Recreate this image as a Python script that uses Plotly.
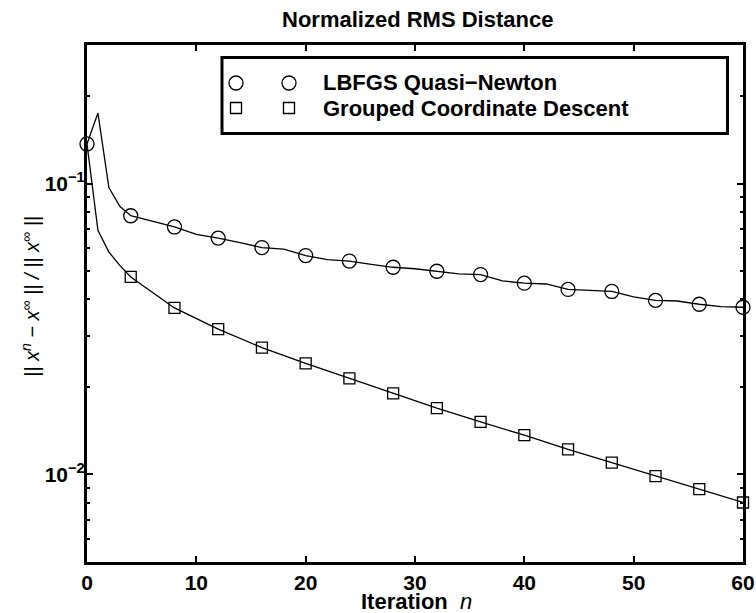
import plotly.graph_objects as go

# ---------------- data ----------------
lbfgs_iter = [0, 1, 2, 3, 4, 6, 8, 10, 12, 14, 16, 18, 20, 22, 24, 26, 28, 30,
              32, 34, 36, 38, 40, 42, 44, 46, 48, 50, 52, 54, 56, 58, 60]
lbfgs_vals = [0.137, 0.175, 0.097, 0.0836, 0.0776, 0.0744, 0.0710, 0.0669, 0.0650,
              0.0627, 0.0603, 0.0596, 0.0566, 0.0548, 0.0542, 0.0528, 0.0516, 0.0510,
              0.0500, 0.0490, 0.0487, 0.0463, 0.0455, 0.0452, 0.0433, 0.0430, 0.0426,
              0.0408, 0.0397, 0.0395, 0.0385, 0.0378, 0.0376]
lbfgs_marker_iter = [0, 4, 8, 12, 16, 20, 24, 28, 32, 36, 40, 44, 48, 52, 56, 60]
lbfgs_marker_vals = [0.137, 0.0776, 0.0710, 0.0650, 0.0603, 0.0566, 0.0542, 0.0516,
                     0.0500, 0.0487, 0.0455, 0.0433, 0.0426, 0.0397, 0.0385, 0.0376]

gcd_iter = [0, 1, 2, 3, 4, 8, 12, 16, 20, 24, 28, 32, 36, 40, 44, 48, 52, 56, 60]
gcd_vals = [0.137, 0.0691, 0.0582, 0.0524, 0.0478, 0.0374, 0.0316, 0.0273, 0.0241,
            0.0214, 0.0190, 0.0169, 0.01517, 0.01365, 0.01219, 0.01099, 0.00987,
            0.00890, 0.00801]
gcd_marker_iter = [4, 8, 12, 16, 20, 24, 28, 32, 36, 40, 44, 48, 52, 56, 60]
gcd_marker_vals = [0.0478, 0.0374, 0.0316, 0.0273, 0.0241, 0.0214, 0.0190, 0.0169,
                   0.01517, 0.01365, 0.01219, 0.01099, 0.00987, 0.00890, 0.00801]

x_ticks = [0, 10, 20, 30, 40, 50, 60]
y_ticks = [0.01, 0.1]
y_ticktext = ["10<sup>−2</sup>", "10<sup>−1</sup>"]
y_minor = [0.005, 0.006, 0.007, 0.008, 0.009, 0.02, 0.03, 0.04, 0.05, 0.06, 0.07,
           0.08, 0.09, 0.2, 0.3]

series_names = ["LBFGS Quasi−Newton", "Grouped Coordinate Descent"]
title_text = "Normalized RMS Distance"

FONT = "Liberation Sans, Arial, sans-serif"
BLACK = "black"

fig = go.Figure()

# lines
fig.add_trace(go.Scatter(x=lbfgs_iter, y=lbfgs_vals, mode="lines",
                         line=dict(color=BLACK, width=1.3), showlegend=False,
                         cliponaxis=False))
fig.add_trace(go.Scatter(x=gcd_iter, y=gcd_vals, mode="lines",
                         line=dict(color=BLACK, width=1.3), showlegend=False,
                         cliponaxis=False))
# markers
fig.add_trace(go.Scatter(x=lbfgs_marker_iter, y=lbfgs_marker_vals, mode="markers",
                         marker=dict(symbol="circle-open", size=14, color=BLACK,
                                     line=dict(width=1.3, color=BLACK)),
                         showlegend=False, cliponaxis=False))
fig.add_trace(go.Scatter(x=gcd_marker_iter, y=gcd_marker_vals, mode="markers",
                         marker=dict(symbol="square-open", size=11, color=BLACK,
                                     line=dict(width=1.3, color=BLACK)),
                         showlegend=False, cliponaxis=False))

# page geometry (window pixels)
W, H = 756, 613
L, R, T, B = 87, 743, 45, 562

# legend markers on an overlay pixel-like axis
leg_x = [236, 289]
leg_rows = [83, 108]
fig.add_trace(go.Scatter(x=leg_x, y=[leg_rows[0]] * 2, mode="markers",
                         xaxis="x2", yaxis="y2", showlegend=False, cliponaxis=False,
                         marker=dict(symbol="circle-open", size=14, color=BLACK,
                                     line=dict(width=1.3, color=BLACK))))
fig.add_trace(go.Scatter(x=leg_x, y=[leg_rows[1]] * 2, mode="markers",
                         xaxis="x2", yaxis="y2", showlegend=False, cliponaxis=False,
                         marker=dict(symbol="square-open", size=11, color=BLACK,
                                     line=dict(width=1.3, color=BLACK))))

pw, ph = R - L, B - T


def px(xp):
    return (xp - L) / pw


def py(yp):
    return (B - yp) / ph


axis_common = dict(showline=True, linewidth=3, linecolor=BLACK, mirror="ticks",
                   ticks="inside", ticklen=6, tickwidth=2, tickcolor=BLACK,
                   showgrid=False, zeroline=False, automargin=False,
                   tickfont=dict(family=FONT, size=21, color=BLACK, weight="bold"))

fig.update_layout(
    template="none",
    width=W, height=H,
    margin=dict(l=L, r=W - R, t=T, b=H - B, autoexpand=False),
    paper_bgcolor="white", plot_bgcolor="white",
    showlegend=False,
    xaxis=dict(range=[0, 60], tickvals=x_ticks, **axis_common),
    yaxis=dict(type="log", range=[-2.30103, -0.522879], tickvals=y_ticks,
               ticktext=y_ticktext, ticklabelstandoff=-5,
               minor=dict(tickvals=y_minor, ticks="inside", ticklen=3, tickwidth=1.5,
                          tickcolor=BLACK, showgrid=False),
               **axis_common),
    xaxis2=dict(range=[L, R], overlaying="x", visible=False, fixedrange=True,
                automargin=False),
    yaxis2=dict(range=[B, T], overlaying="y", visible=False, fixedrange=True,
                automargin=False),
    shapes=[dict(type="rect", xref="paper", yref="paper",
                 x0=px(222), x1=px(727.5), y0=py(133.5), y1=py(57.5),
                 line=dict(color=BLACK, width=3), fillcolor="rgba(0,0,0,0)",
                 layer="below")],
    annotations=[
        dict(text="<b>" + title_text + "</b>", xref="paper", yref="paper",
             x=px(417), y=py(19.5), xanchor="center", yanchor="middle",
             showarrow=False, font=dict(family=FONT, size=22, color=BLACK)),
        dict(text="<b>Iteration</b>  <i>n</i>", xref="paper", yref="paper",
             x=px(416.5), y=py(601), xanchor="center", yanchor="middle",
             showarrow=False, font=dict(family=FONT, size=22, color=BLACK)),
        dict(text="<i>|| x<sup>n</sup> − x<sup>∞</sup> || / || x<sup>∞</sup> ||</i>",
             xref="paper", yref="paper", x=px(30), y=py(297), textangle=-90,
             xanchor="center", yanchor="middle", showarrow=False,
             font=dict(family=FONT, size=20, color=BLACK)),
        dict(text="<b>" + series_names[0] + "</b>", xref="paper", yref="paper",
             x=px(321), y=py(leg_rows[0]), xanchor="left", yanchor="middle",
             showarrow=False, font=dict(family=FONT, size=22, color=BLACK)),
        dict(text="<b>" + series_names[1] + "</b>", xref="paper", yref="paper",
             x=px(321), y=py(leg_rows[1]), xanchor="left", yanchor="middle",
             showarrow=False, font=dict(family=FONT, size=22, color=BLACK)),
    ],
)

# remove the browser's default 8px body margin so the figure fills the window
fig.write_html(
    "out.html",
    config={"displayModeBar": False},
    post_script="document.body.style.margin='0';document.body.style.overflow='hidden';",
)
